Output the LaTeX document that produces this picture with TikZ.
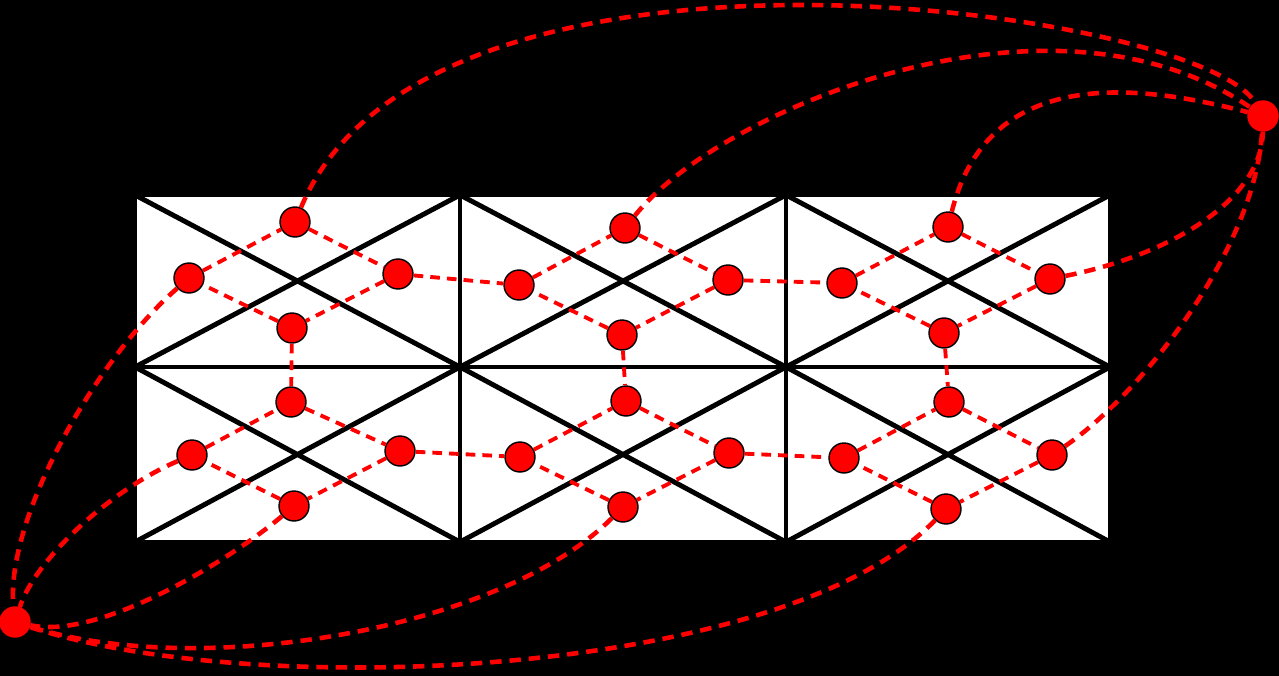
\documentclass[tikz,border=0pt]{standalone}
\usepackage{tikz}
\usetikzlibrary{positioning}
\tikzset{my_graph/.style={x=0.02cm,y=-0.02cm}}
\tikzset{my_cell/.style={fill=white, draw=black, line width=2.8pt}}
\tikzset{my_line/.style={draw=black, line width=2.8pt}}
\tikzset{my_dot/.style={circle, fill=red, draw=black, line width=0.8pt, minimum size=0.6cm, inner sep=0pt}}
\tikzset{my_outer_dot/.style={my_dot, draw=red}}
\tikzset{my_edge/.style={red, dashed, dash pattern=on 5.5pt off 4pt, line width=2.2pt}}
\tikzset{my_outer_edge/.style={my_edge, dash pattern=on 6.5pt off 4.5pt, line width=2.6pt}}

\begin{document}
\begin{tikzpicture}[my_graph]
    \fill[black] (0,0) rectangle (1279,676);
    \useasboundingbox (0,0) rectangle (1279,676);
    %\draw[help lines] (0,0) grid (1279,676);

    % mesh
    \foreach \xa/\xb in {135/460,460/786,786/1110}
        \foreach \ya/\yb in {195/367,367/542} {
            \filldraw[my_cell] (\xa,\ya) rectangle (\xb,\yb);
            \draw[my_line] (\xa,\ya) -- (\xb,\yb) (\xa,\yb) -- (\xb,\ya);
        }

    % one dot per triangle
    \node[my_dot] (l11) at (189,278) {};
    \node[my_dot] (t11) at (295,222) {};
    \node[my_dot] (r11) at (398,274) {};
    \node[my_dot] (b11) at (292,328) {};
    \node[my_dot] (l21) at (192,455) {};
    \node[my_dot] (t21) at (291,402) {};
    \node[my_dot] (r21) at (400,451) {};
    \node[my_dot] (b21) at (294,506) {};
    \node[my_dot] (l12) at (519,285) {};
    \node[my_dot] (t12) at (625,228) {};
    \node[my_dot] (r12) at (728,280) {};
    \node[my_dot] (b12) at (622,335) {};
    \node[my_dot] (l22) at (520,457) {};
    \node[my_dot] (t22) at (626,401) {};
    \node[my_dot] (r22) at (729,453) {};
    \node[my_dot] (b22) at (623,507) {};
    \node[my_dot] (l13) at (842,283) {};
    \node[my_dot] (t13) at (948,227) {};
    \node[my_dot] (r13) at (1050,279) {};
    \node[my_dot] (b13) at (944,333) {};
    \node[my_dot] (l23) at (844,458) {};
    \node[my_dot] (t23) at (949,402) {};
    \node[my_dot] (r23) at (1052,455) {};
    \node[my_dot] (b23) at (946,509) {};
    % outside
    \node[my_outer_dot] (ext_a) at (1263,116) {};
    \node[my_outer_dot] (ext_b) at (15,622) {};

    \path[my_edge]
        (l11) edge (t11) (t11) edge (r11) (r11) edge (b11) (b11) edge (l11)
        (l21) edge (t21) (t21) edge (r21) (r21) edge (b21) (b21) edge (l21)
        (l12) edge (t12) (t12) edge (r12) (r12) edge (b12) (b12) edge (l12)
        (l22) edge (t22) (t22) edge (r22) (r22) edge (b22) (b22) edge (l22)
        (l13) edge (t13) (t13) edge (r13) (r13) edge (b13) (b13) edge (l13)
        (l23) edge (t23) (t23) edge (r23) (r23) edge (b23) (b23) edge (l23)
        (r11) edge (l12) (r12) edge (l13)
        (r21) edge (l22) (r22) edge (l23)
        (b11) edge (t21) (b12) edge (t22) (b13) edge (t23)
    ;

    \draw[my_outer_edge] (t11) .. controls (429,-100) and (1200,10) .. (ext_a);
    \draw[my_outer_edge] (t12) .. controls (720,109) and (1051,-28) .. (ext_a);
    \draw[my_outer_edge] (t13) .. controls (990,58) and (1153,88) .. (ext_a);
    \draw[my_outer_edge] (r13) .. controls (1170,255) and (1262,200) .. (ext_a);
    \draw[my_outer_edge] (r23) .. controls (1140,395) and (1255,250) .. (ext_a);

    \draw[my_outer_edge] (l11) .. controls (95,360) and (5,520) .. (ext_b);
    \draw[my_outer_edge] (l21) .. controls (110,490) and (35,560) .. (ext_b);
    \draw[my_outer_edge] (b21) .. controls (230,560) and (100,640) .. (ext_b);
    \draw[my_outer_edge] (b22) .. controls (500,630) and (200,680) .. (ext_b);
    \draw[my_outer_edge] (b23) .. controls (780,680) and (250,700) .. (ext_b);
\end{tikzpicture}
\end{document}
